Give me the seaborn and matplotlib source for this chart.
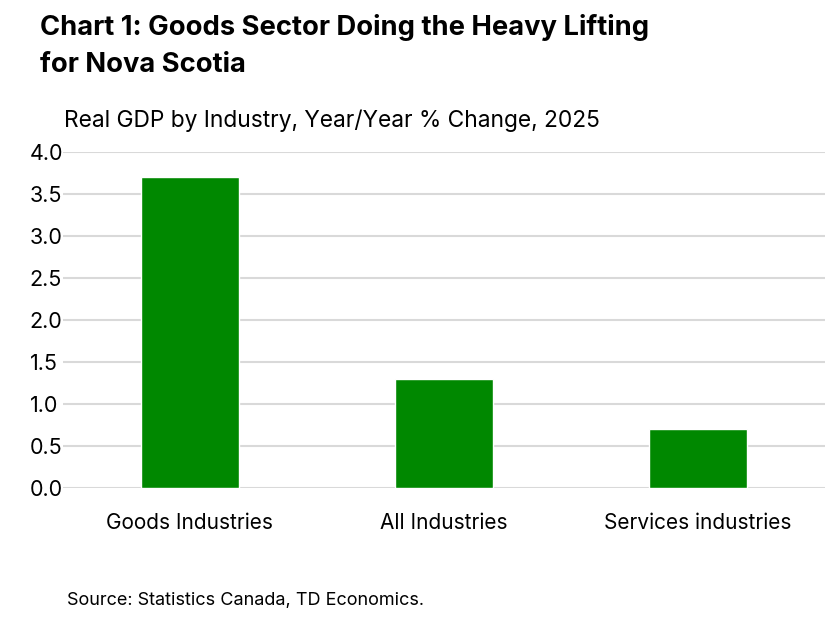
import matplotlib
matplotlib.use('Agg')
import matplotlib.pyplot as plt
import seaborn as sns
import pandas as pd

# values
industries = ['Goods Industries', 'All Industries', 'Services industries']
yoy_change = [3.7, 1.3, 0.7]
y_ticks = [0.0, 0.5, 1.0, 1.5, 2.0, 2.5, 3.0, 3.5, 4.0]

df = pd.DataFrame({'industry': industries, 'change': yoy_change})

sns.set_theme(style='white')
plt.rcParams['font.family'] = ['Inter', 'DejaVu Sans']
plt.rcParams['text.color'] = 'black'
plt.rcParams['xtick.color'] = 'black'
plt.rcParams['ytick.color'] = 'black'

fig = plt.figure(figsize=(8.27, 6.17), dpi=100)
ax = fig.add_axes([0.076, 0.209, 0.9216, 0.5446])

sns.barplot(data=df, x='industry', y='change', color='#008800', width=0.385,
            saturation=1, ax=ax, zorder=3)

ax.set_ylim(0, 4)
ax.set_xlim(-0.5, 2.5)
ax.set_yticks(y_ticks)
ax.set_yticklabels([f'{t:.1f}' for t in y_ticks], fontsize=15.5)
ax.tick_params(axis='x', labelsize=15, pad=18, length=0)
ax.tick_params(axis='y', pad=24, length=0)
for lbl in ax.get_yticklabels():
    lbl.set_horizontalalignment('left')
ax.grid(axis='y', color='#d9d9d9', linewidth=1.5, zorder=0)
ax.set_xlabel('')
ax.set_ylabel('')
for s in ax.spines.values():
    s.set_visible(False)

fig.text(0.048, 0.977, 'Chart 1: Goods Sector Doing the Heavy Lifting\nfor Nova Scotia',
         fontsize=19.7, fontweight='bold', va='top', ha='left', linespacing=1.55)
fig.text(0.077, 0.805, 'Real GDP by Industry, Year/Year % Change, 2025',
         fontsize=16.4, va='center', ha='left')
fig.text(0.081, 0.027, 'Source: Statistics Canada, TD Economics.',
         fontsize=13, va='center', ha='left')

fig.savefig('out.png', dpi=100)
